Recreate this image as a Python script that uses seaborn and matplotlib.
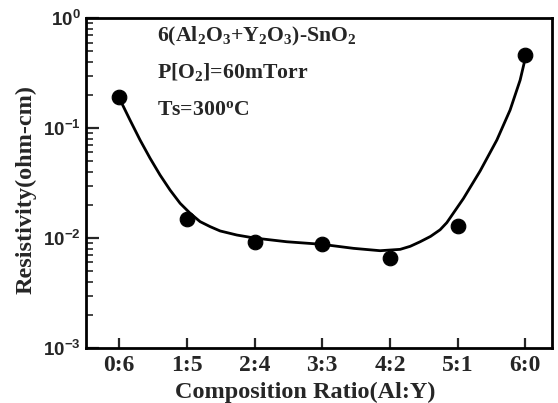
import matplotlib
matplotlib.use("Agg")
import matplotlib.pyplot as plt
import seaborn as sns
import numpy as np
import pandas as pd
from matplotlib.ticker import FixedLocator, FixedFormatter, LogLocator, NullFormatter

# ---- data ----
categories = ["0:6", "1:5", "2:4", "3:3", "4:2", "5:1", "6:0"]
resistivity = [0.19, 0.0149, 0.0092, 0.0088, 0.0066, 0.0129, 0.46]

# guide-to-the-eye curve (x in category index units)
curve_x = [0.04, 0.162, 0.31, 0.458, 0.605, 0.753, 0.901, 1.049, 1.196, 1.344,
           1.492, 1.739, 2.0, 2.477, 2.994, 3.461, 3.855, 4.151, 4.3, 4.446,
           4.6, 4.741, 4.84, 5.086, 5.332, 5.579, 5.775, 5.923, 5.987]
curve_y = [0.168, 0.118, 0.0778, 0.0531, 0.0374, 0.0273, 0.0207, 0.0168,
           0.0141, 0.0127, 0.0116, 0.01065, 0.0100, 0.00925, 0.00877, 0.00806,
           0.00767, 0.00789, 0.00841, 0.00925, 0.01035, 0.01189, 0.0138,
           0.0229, 0.0407, 0.0778, 0.146, 0.273, 0.401]

ytick_vals = [1e-3, 1e-2, 1e-1, 1e0]
ytick_labels = [r"$\mathsf{10^{-3}}$", r"$\mathsf{10^{-2}}$",
                r"$\mathsf{10^{-1}}$", r"$\mathsf{10^{0}}$"]

title_lines = [r"6(Al$_2$O$_3$+Y$_2$O$_3$)-SnO$_2$",
               r"P[O$_2$]=60mTorr",
               r"Ts=300$^\mathrm{o}$C"]

sns.set_theme(style="ticks")
plt.rcParams["font.family"] = ["Liberation Serif", "DejaVu Serif"]
plt.rcParams["font.weight"] = "bold"
plt.rcParams["mathtext.fontset"] = "custom"
plt.rcParams["mathtext.rm"] = "Liberation Serif:bold"
plt.rcParams["mathtext.it"] = "Liberation Serif:bold"
plt.rcParams["mathtext.bf"] = "Liberation Serif:bold"
plt.rcParams["mathtext.sf"] = "Liberation Sans:bold"
plt.rcParams["mathtext.default"] = "rm"

fig = plt.figure(figsize=(5.58, 4.03), dpi=100)
ax = fig.add_axes([0.154, 0.1365, 0.836, 0.8185])

df_pts = pd.DataFrame({"x": np.arange(len(categories)), "y": resistivity})
df_curve = pd.DataFrame({"x": curve_x, "y": curve_y})

sns.lineplot(data=df_curve, x="x", y="y", ax=ax, color="black", lw=2.0,
             sort=False, estimator=None)
sns.scatterplot(data=df_pts, x="x", y="y", ax=ax, color="black", s=110,
                edgecolor="black", zorder=5)

ax.set_yscale("log")
ax.set_ylim(1e-3, 1e0)
ax.set_xlim(-0.49, 6.4)

ax.yaxis.set_major_locator(FixedLocator(ytick_vals))
ax.yaxis.set_major_formatter(FixedFormatter(ytick_labels))
ax.yaxis.set_minor_locator(LogLocator(base=10, subs=np.arange(2, 10), numticks=20))
ax.yaxis.set_minor_formatter(NullFormatter())

ax.set_xticks(np.arange(len(categories)))
ax.set_xticklabels(categories, fontsize=17, fontweight="bold")
ax.tick_params(axis="y", which="major", direction="in", length=9, width=1.6,
               labelsize=13.5, pad=4, left=True, right=False)
ax.tick_params(axis="y", which="minor", direction="in", length=5, width=1.2,
               left=True, right=False)
ax.tick_params(axis="x", which="major", direction="in", length=7, width=1.6,
               pad=5, bottom=True, top=False)
ax.minorticks_on()
ax.tick_params(axis="x", which="minor", bottom=False, top=False)

for s in ax.spines.values():
    s.set_linewidth(2.0)
    s.set_color("black")

ax.set_xlabel("Composition Ratio(Al:Y)", fontsize=17.5, fontweight="bold")
ax.set_ylabel("Resistivity(ohm-cm)", fontsize=17.5, fontweight="bold")
ax.xaxis.set_label_coords(0.47, -0.102)
ax.yaxis.set_label_coords(-0.105, 0.48)

text_y = [0.618, 0.285, 0.131]
for t, yv in zip(title_lines, text_y):
    ax.text(0.56, yv, t, fontsize=15.7, fontweight="bold", ha="left",
            va="baseline", transform=ax.transData)

fig.savefig("out.png", dpi=100)
